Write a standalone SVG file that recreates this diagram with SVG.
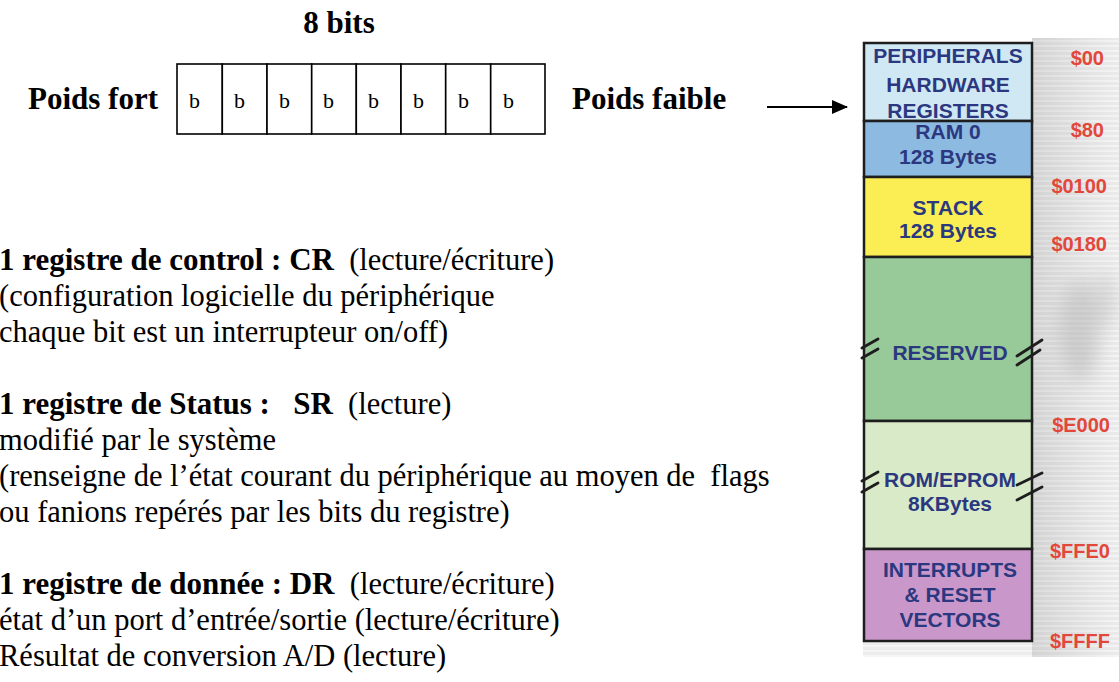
<svg xmlns="http://www.w3.org/2000/svg" width="1119" height="682" viewBox="0 0 1119 682">
<style>
.serif{font-family:"Liberation Serif","Times New Roman",serif;fill:#000}
.b{font-weight:bold;font-size:31px}
.body{font-size:30.5px}
.bit{font-size:22px}
.cell{fill:#fff;stroke:#000;stroke-width:1.6}
.seg{stroke:#1e1e1e;stroke-width:2.5}
.mm{font-family:"Liberation Sans",Arial,sans-serif;font-weight:bold;font-size:21px;fill:#2b3880;text-anchor:middle}
.addr{font-family:"Liberation Sans",Arial,sans-serif;font-weight:bold;font-size:20px;fill:#e2473b;text-anchor:end}
.brk{stroke:#1e1e1e;stroke-width:2.8;fill:none;stroke-linecap:round}
</style>
<defs>
<pattern id="stripes" width="8" height="5" patternUnits="userSpaceOnUse">
<rect width="8" height="5" fill="#e0e0e0"/>
<rect y="0" width="8" height="2" fill="#efefef"/>
</pattern>
<linearGradient id="fade" x1="0" y1="0" x2="1" y2="0">
<stop offset="0" stop-color="#bdbdbd" stop-opacity="0.4"/>
<stop offset="1" stop-color="#ffffff" stop-opacity="0.35"/>
</linearGradient>
<filter id="blur" x="-50%" y="-50%" width="200%" height="200%"><feGaussianBlur stdDeviation="9"/></filter>
<marker id="arr" markerWidth="16" markerHeight="14" refX="15" refY="7" orient="auto" markerUnits="userSpaceOnUse">
<path d="M0,0 L16,7 L0,14 Z" fill="#000"/>
</marker>
</defs>
<rect width="1119" height="682" fill="#fff"/>

<g id="title-8bits"><text class="serif b" x="339" y="33" text-anchor="middle">8 bits</text></g>
<g id="poids-fort"><text class="serif b" x="28" y="109">Poids fort</text></g>
<g id="poids-faible"><text class="serif b" x="572" y="109">Poids faible</text></g>

<g id="register-8bits">
<rect class="cell" x="177" y="64" width="45.3" height="70"/>
<rect class="cell" x="222.3" y="64" width="44.7" height="70"/>
<rect class="cell" x="267" y="64" width="44.7" height="70"/>
<rect class="cell" x="311.7" y="64" width="44.6" height="70"/>
<rect class="cell" x="356.3" y="64" width="44.7" height="70"/>
<rect class="cell" x="401" y="64" width="44.7" height="70"/>
<rect class="cell" x="445.7" y="64" width="45" height="70"/>
<rect class="cell" x="490.7" y="64" width="54.3" height="70"/>
<g class="serif bit">
<text x="189" y="108">b</text><text x="234" y="108">b</text><text x="279" y="108">b</text><text x="323" y="108">b</text>
<text x="368" y="108">b</text><text x="413" y="108">b</text><text x="458" y="108">b</text><text x="503" y="108">b</text>
</g>
</g>

<g id="cr-text" class="serif body">
<text x="-1" y="270" xml:space="preserve"><tspan class="b">1 registre de control : CR</tspan>  (lecture/écriture)</text>
<text x="-1" y="306">(configuration logicielle du périphérique</text>
<text x="-1" y="342">chaque bit est un interrupteur on/off)</text>
</g>
<g id="sr-text" class="serif body">
<text x="-1" y="414" xml:space="preserve"><tspan class="b">1 registre de Status :   SR</tspan>  (lecture)</text>
<text x="-1" y="450">modifié par le système</text>
<text x="-1" y="486" xml:space="preserve">(renseigne de l’état courant du périphérique au moyen de  flags</text>
<text x="-1" y="522">ou fanions repérés par les bits du registre)</text>
</g>
<g id="dr-text" class="serif body">
<text x="-1" y="594" xml:space="preserve"><tspan class="b">1 registre de donnée : DR</tspan>  (lecture/écriture)</text>
<text x="-1" y="630">état d’un port d’entrée/sortie (lecture/écriture)</text>
<text x="-1" y="666">Résultat de conversion A/D (lecture)</text>
</g>

<g id="memory-map">
<g id="mm-background">
<rect x="1032" y="38" width="87" height="619" fill="url(#stripes)"/>
<rect x="863" y="641" width="256" height="16" fill="url(#stripes)" opacity="0.6"/>
<rect x="1032" y="38" width="87" height="619" fill="url(#fade)"/>
<ellipse cx="1080" cy="330" rx="20" ry="50" fill="#a8a8a8" opacity="0.4" filter="url(#blur)"/>
<ellipse cx="1105" cy="300" rx="12" ry="28" fill="#b0b0b0" opacity="0.35" filter="url(#blur)"/>
</g>
<g id="seg-peripherals">
<rect class="seg" x="864" y="43" width="168" height="78" fill="#d0e8f4"/>
<text class="mm" x="948" y="63">PERIPHERALS</text>
<text class="mm" x="948" y="92">HARDWARE</text>
<text class="mm" x="948" y="118">REGISTERS</text>
</g>
<g id="seg-ram0">
<rect class="seg" x="864" y="121" width="168" height="56" fill="#8dbae0"/>
<text class="mm" x="948" y="139">RAM 0</text>
<text class="mm" x="948" y="164">128 Bytes</text>
</g>
<g id="seg-stack">
<rect class="seg" x="864" y="177" width="168" height="80" fill="#fbee55"/>
<text class="mm" x="948" y="215">STACK</text>
<text class="mm" x="948" y="238">128 Bytes</text>
</g>
<g id="seg-reserved">
<rect class="seg" x="864" y="257" width="168" height="164" fill="#98c998"/>
<text class="mm" x="950" y="360">RESERVED</text>
<path class="brk" d="M862,348 L878,339 M862,358 L878,349 M1017,356 L1042,340 M1017,365 L1040,350"/>
</g>
<g id="seg-rom">
<rect class="seg" x="864" y="421" width="168" height="128" fill="#d9eac8"/>
<text class="mm" x="950" y="487">ROM/EPROM</text>
<text class="mm" x="950" y="511">8KBytes</text>
<path class="brk" d="M862,481 L878,472 M862,492 L878,483 M1017,485 L1042,473 M1017,500 L1042,487"/>
</g>
<g id="seg-interrupts">
<rect class="seg" x="864" y="549" width="168" height="92" fill="#c997c9"/>
<text class="mm" x="950" y="577">INTERRUPTS</text>
<text class="mm" x="950" y="602">&amp; RESET</text>
<text class="mm" x="950" y="627">VECTORS</text>
</g>
<g id="addresses">
<text class="addr" x="1104" y="65">$00</text>
<text class="addr" x="1104" y="137">$80</text>
<text class="addr" x="1107" y="193">$0100</text>
<text class="addr" x="1107" y="251">$0180</text>
<text class="addr" x="1110" y="432">$E000</text>
<text class="addr" x="1110" y="558">$FFE0</text>
<text class="addr" x="1110" y="648">$FFFF</text>
</g>
</g>

<g id="connectors">
<line x1="767" y1="107" x2="847" y2="107" stroke="#000" stroke-width="2" marker-end="url(#arr)"/>
</g>
</svg>
